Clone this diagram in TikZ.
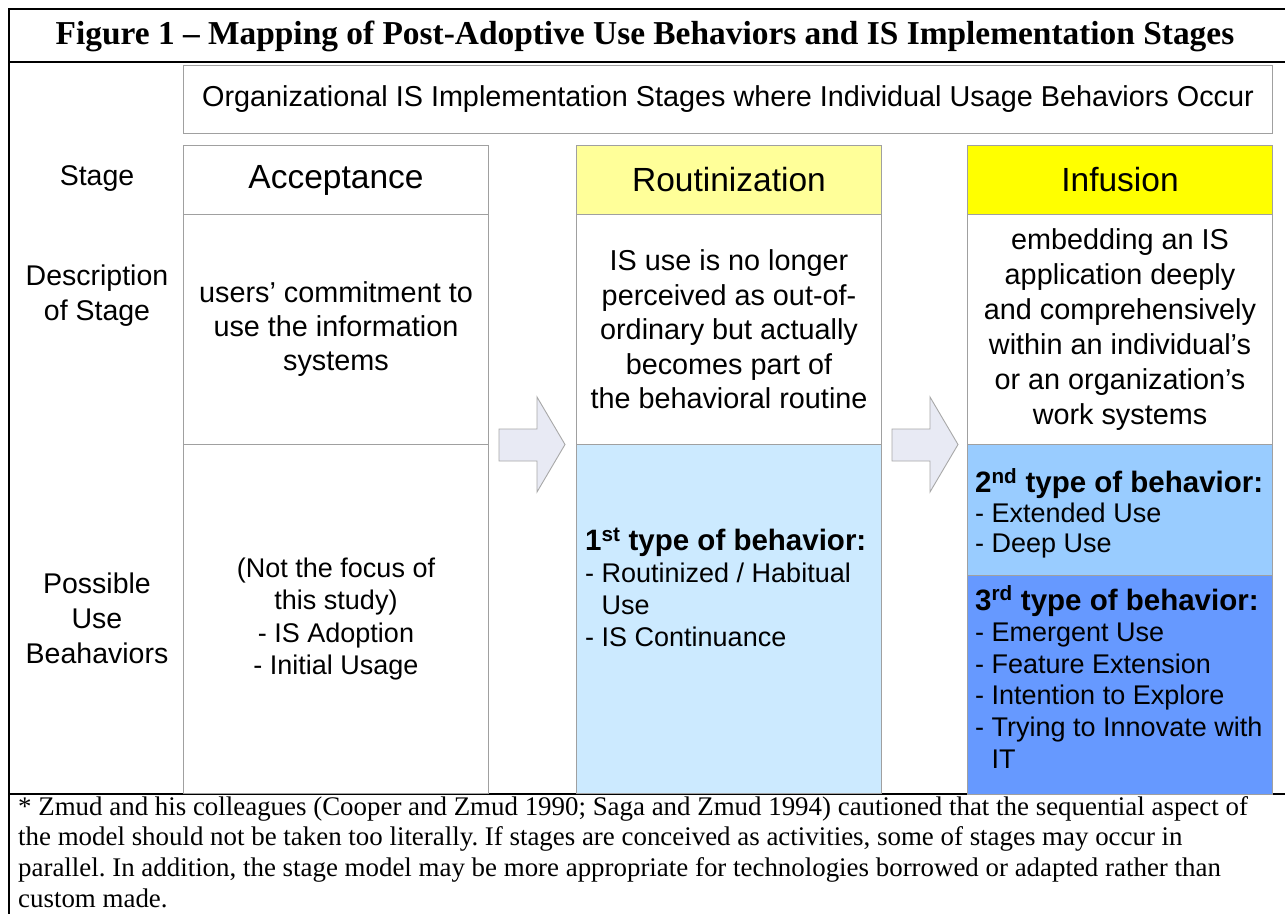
\documentclass[tikz,border=0pt]{standalone}
\usepackage{fontspec}
\setmainfont{Liberation Serif}
\newfontfamily\arial{Liberation Sans}
\definecolor{boxgray}{HTML}{A0A0A0}
\definecolor{ylight}{HTML}{FFFF99}
\definecolor{ystrong}{HTML}{FFFF00}
\definecolor{blight}{HTML}{CCEAFF}
\definecolor{bmid}{HTML}{99CCFF}
\definecolor{bdeep}{HTML}{6699FF}
\definecolor{arrowfill}{HTML}{E8EAF4}
\definecolor{arrowline}{HTML}{A8A8A8}
\frenchspacing
\begin{document}
\begin{tikzpicture}[x=1pt,y=-1pt,
  cell/.style={draw=boxgray, line width=1pt, inner sep=0pt, anchor=north west,
    align=center, font={\arial\fontsize{28.8}{34}\selectfont}},
  stagehead/.style={cell, minimum width=305pt, minimum height=69pt,
    font={\arial\fontsize{33.5}{40}\selectfont}},
  descbox/.style={cell, minimum width=305pt, minimum height=230pt},
  rowlabel/.style={inner sep=0pt, align=center, font={\arial\fontsize{28.5}{35}\selectfont}},
  behav/.style={inner sep=0pt, align=left, anchor=west, font={\arial\fontsize{27}{32}\selectfont}},
  blockarrow/.style={draw=arrowline, fill=arrowfill, line width=0.9pt, line join=miter},
  frameline/.style={line width=2pt, black}
]
\useasboundingbox (0,0) rectangle (1285,913);
\fill[white] (0,0) rectangle (1285,913);

% outer frame
\draw[frameline] (9,1000) -- (9,9) -- (1292,9) -- (1292,1000);
\draw[frameline] (9,62) -- (1292,62);
\draw[line width=2.4pt] (9,794) -- (1292,794);

\node[inner sep=0pt, font={\bfseries\fontsize{33.4}{40}\selectfont}] (title) at (645,36)
  {Figure 1 – Mapping of Post-Adoptive Use Behaviors and IS Implementation Stages};

% header
\node[cell, minimum width=1089pt, minimum height=68pt] (header) at (183,65)
  {Organizational IS Implementation Stages where Individual Usage Behaviors Occur};

% row labels
\node[rowlabel] (lstage) at (97,179) {Stage};
\node[rowlabel] (ldesc) at (97,296) {Description\\of Stage};
\node[rowlabel] (lbeh) at (97,618) {Possible\\Use\\Beahaviors};

% acceptance column
\node[stagehead] (accS) at (183,145) {Acceptance};
\node[descbox] (accD) at (183,214) {users’ commitment to\\use the information\\systems};
\node[cell, minimum width=305pt, minimum height=349pt,
  font={\arial\fontsize{27}{32.4}\selectfont}] (accB) at (183,444)
  {(Not the focus of\\this study)\\- IS Adoption\\- Initial Usage};

% routinization column
\node[stagehead, fill=ylight] (rouS) at (576,145) {Routinization};
\node[descbox, font={\arial\fontsize{28.8}{34.5}\selectfont}] (rouD) at (576,214)
  {IS use is no longer\\perceived as out-of-\\ordinary but actually\\becomes part of\\the behavioral routine};
\node[cell, fill=blight, minimum width=305pt, minimum height=349pt] (rouB) at (576,444) {};
\node[behav] (rouBt) at (585,587)
  {{\bfseries\fontsize{29.5}{32}\selectfont 1\textsuperscript{st} type of behavior:}\\
   - Routinized / Habitual\\\hphantom{- }Use\\- IS Continuance};

% infusion column
\node[stagehead, fill=ystrong] (infS) at (967,145) {Infusion};
\node[descbox, font={\arial\fontsize{28.8}{35}\selectfont}] (infD) at (967,214)
  {embedding an IS\\application deeply\\and comprehensively\\within an individual’s\\or an organization’s\\work systems};
\node[cell, fill=bmid, minimum width=305pt, minimum height=131pt] (infB2) at (967,444) {};
\node[behav, font={\arial\fontsize{27}{30}\selectfont}] (infB2t) at (975,513)
  {{\bfseries\fontsize{29.5}{30}\selectfont 2\textsuperscript{nd} type of behavior:}\\
   - Extended Use\\- Deep Use};
\node[cell, fill=bdeep, minimum width=305pt, minimum height=219pt] (infB3) at (967,575) {};
\node[behav, font={\arial\fontsize{27}{31.6}\selectfont}] (infB3t) at (975,677)
  {{\bfseries\fontsize{29.5}{31.6}\selectfont 3\textsuperscript{rd} type of behavior:}\\
   - Emergent Use\\- Feature Extension\\- Intention to Explore\\- Trying to Innovate with\\\hphantom{- }IT};

% block arrows
\draw[blockarrow] (499,429) -- (537,429) -- (537,397) -- (565,444.5) -- (537,492)
  -- (537,461) -- (499,461) -- cycle;
\draw[blockarrow] (892,429) -- (930,429) -- (930,397) -- (958,444.5) -- (930,492)
  -- (930,461) -- (892,461) -- cycle;

% footnote
\node[inner sep=0pt, anchor=south west, align=left,
  font={\fontsize{26.9}{30.8}\selectfont}] (foot) at (18,908)
  {* Zmud and his colleagues (Cooper and Zmud 1990; Saga and Zmud 1994) cautioned that the sequential aspect of\\
   the model should not be taken too literally. If stages are conceived as activities, some of stages may occur in\\
   parallel. In addition, the stage model may be more appropriate for technologies borrowed or adapted rather than\\
   custom made.};
\end{tikzpicture}
\end{document}
